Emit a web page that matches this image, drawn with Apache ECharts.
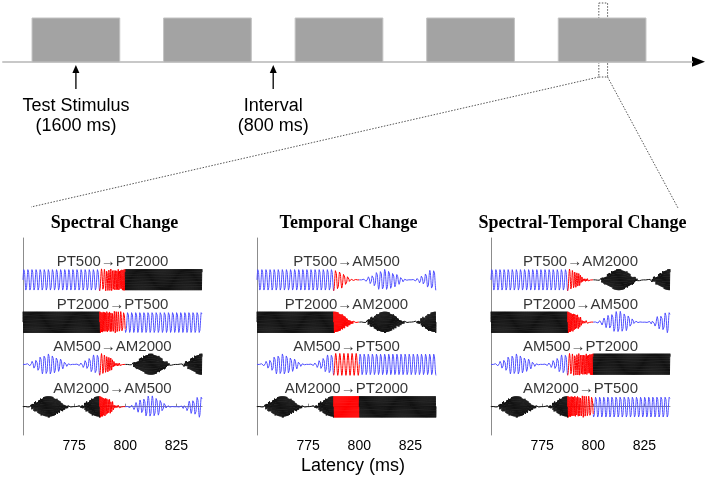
<!DOCTYPE html>
<html>
<head>
<meta charset="utf-8">
<script src="https://cdn.jsdelivr.net/npm/echarts@6.0.0/dist/echarts.min.js"></script>
<style>
  html, body { margin: 0; padding: 0; background: #fff; }
  #main { width: 709px; height: 478px; }
</style>
</head>
<body>
<div id="main"></div>
<script>
// stimulus timeline, ms
const stimulusOnsets = [0, 2400, 4800, 7200, 9600]
const stimulusDuration = 1600
const intervalDuration = 800
const timelineRange = [-530, 12040]
const zoomWindow = [10340, 10500]

// waveform panels
const panelTitles = ['Spectral Change', 'Temporal Change', 'Spectral-Temporal Change']
const panelRows = [
  ['PT500→PT2000', 'PT2000→PT500', 'AM500→AM2000', 'AM2000→AM500'],
  ['PT500→AM500', 'PT2000→AM2000', 'AM500→PT500', 'AM2000→PT2000'],
  ['PT500→AM2000', 'PT2000→AM500', 'AM500→PT2000', 'AM2000→PT500']
]
const rowLevels = [3, 2, 1, 0]
const latencyRange = [750, 837.5]
const latencyTicks = [775, 800, 825]
const transitionWindow = [787.5, 800]
const amRate = 40 // Hz
const sampleStep = 0.02 // ms

const carrierColors = { 500: '#5050ff', 2000: '#111111' }
const transitionColor = '#ff0000'
const axisGray = '#8c8c8c'
const SANS = '"Liberation Sans", Arial, sans-serif'
const SERIF = '"Liberation Serif", "Times New Roman", serif'

const panelLefts = [23, 257, 491]
const panelWidth = 179
const panelTop = 238
const panelHeight = 197

const chart = echarts.init(document.getElementById('main'), null, { renderer: 'canvas' })

function parseStim(s) {
  return { type: s.slice(0, 2), freq: +s.slice(2) }
}

function envelope(type, t) {
  if (type === 'PT') return 1
  const s = Math.sin(Math.PI * t * amRate / 1000)
  return s * s
}

// one row: old tone, red glide into the new tone, new tone
function buildRow(label, level) {
  const [a, b] = label.split('→').map(parseStim)
  const [t0, t1] = transitionWindow
  const T = t1 - t0
  const amp = 0.26
  const phase0 = 2 * Math.PI * a.freq * t0 / 1000
  const phase1 = phase0 + 2 * Math.PI * (a.freq * T + (b.freq - a.freq) * T / 2) / 1000
  const before = []
  const during = []
  const after = []
  const n = Math.round((latencyRange[1] - latencyRange[0]) / sampleStep)
  for (let i = 0; i <= n; i++) {
    const t = latencyRange[0] + i * sampleStep
    if (t <= t0) {
      const y = envelope(a.type, t) * Math.sin(2 * Math.PI * a.freq * t / 1000)
      before.push([t, level + amp * y])
    }
    if (t >= t0 && t <= t1) {
      const tau = t - t0
      const ph = phase0 + 2 * Math.PI * (a.freq * tau + (b.freq - a.freq) * tau * tau / (2 * T)) / 1000
      during.push([t, level + amp * envelope(b.type, t) * Math.sin(ph)])
    }
    if (t >= t1) {
      const ph = phase1 + 2 * Math.PI * b.freq * (t - t1) / 1000
      after.push([t, level + amp * envelope(b.type, t) * Math.sin(ph)])
    }
  }
  return [
    { data: before, color: carrierColors[a.freq] },
    { data: during, color: transitionColor },
    { data: after, color: carrierColors[b.freq] }
  ]
}

const grids = [{ left: 3, right: 17, top: 18, height: 44 }]
const xAxes = [{
  type: 'value', gridIndex: 0, min: timelineRange[0], max: timelineRange[1],
  axisLine: { show: true, lineStyle: { color: '#c8c8c8', width: 2 } },
  axisTick: { show: false }, axisLabel: { show: false }, splitLine: { show: false }
}]
const yAxes = [{ type: 'value', gridIndex: 0, min: 0, max: 1, show: false }]
const series = [{
  type: 'custom',
  xAxisIndex: 0,
  yAxisIndex: 0,
  silent: true,
  data: stimulusOnsets.map(s => [s, s + stimulusDuration]),
  renderItem: (params, api) => {
    const p0 = api.coord([api.value(0), 1])
    const p1 = api.coord([api.value(1), 0])
    return {
      type: 'rect',
      shape: { x: p0[0], y: p0[1], width: p1[0] - p0[0], height: p1[1] - p0[1] },
      style: { fill: '#a3a3a3', stroke: '#c2c2c2', lineWidth: 1 }
    }
  }
}]

panelTitles.forEach((title, p) => {
  const gi = p + 1
  grids.push({ left: panelLefts[p], top: panelTop, width: panelWidth, height: panelHeight })
  xAxes.push({
    type: 'value', gridIndex: gi, min: latencyRange[0], max: latencyRange[1],
    axisLine: { show: true, lineStyle: { color: axisGray, width: 1 } },
    axisTick: { show: true, inside: true, length: 3, customValues: latencyTicks, lineStyle: { color: axisGray } },
    axisLabel: { show: true, customValues: latencyTicks, color: '#000', fontSize: 14, fontFamily: SANS, margin: 4 },
    splitLine: { show: false }
  })
  yAxes.push({
    type: 'value', gridIndex: gi, min: -0.67, max: 3.99,
    axisLine: { show: true, lineStyle: { color: axisGray, width: 1 } },
    axisTick: { show: false }, axisLabel: { show: false }, splitLine: { show: false }
  })
  panelRows[p].forEach((label, r) => {
    buildRow(label, rowLevels[r]).forEach(seg => {
      series.push({
        type: 'line', xAxisIndex: gi, yAxisIndex: gi,
        data: seg.data, showSymbol: false, symbol: 'none', silent: true,
        lineStyle: { color: seg.color, width: 1 }, animation: false
      })
    })
  })
  series.push({
    type: 'scatter', xAxisIndex: gi, yAxisIndex: gi, symbolSize: 0, silent: true,
    data: panelRows[p].map((label, r) => ({
      name: label,
      value: [(latencyRange[0] + latencyRange[1]) / 2, rowLevels[r] + 0.42]
    })),
    label: { show: true, position: 'inside', formatter: '{b}', color: '#000', fontSize: 15, fontFamily: SANS }
  })
})

chart.setOption({
  animation: false,
  grid: grids,
  xAxis: xAxes,
  yAxis: yAxes,
  series: series
})

// annotations placed on the timeline scale
const px = t => chart.convertToPixel({ gridIndex: 0 }, [t, 0])[0]
const stimMid = stimulusOnsets[0] + stimulusDuration / 2
const gapMid = stimulusOnsets[1] + stimulusDuration + intervalDuration / 2
const graphic = [
  { type: 'polygon', shape: { points: [[692, 56.5], [705, 61.7], [692, 66.8]] }, style: { fill: '#000' } }
]

function upArrow(x) {
  graphic.push({ type: 'line', shape: { x1: x, y1: 89, x2: x, y2: 72 }, style: { stroke: '#222', lineWidth: 1.5 } })
  graphic.push({ type: 'polygon', shape: { points: [[x - 3.5, 73], [x, 65], [x + 3.5, 73]] }, style: { fill: '#000' } })
}
function label(text, x, y, font) {
  graphic.push({
    type: 'text', x: x, y: y,
    style: Object.assign({ text: text, fill: '#000', align: 'center', verticalAlign: 'middle' }, font)
  })
}

upArrow(px(stimMid))
upArrow(px(gapMid))
const annFont = { fontSize: 18, fontFamily: SANS }
label('Test Stimulus', px(stimMid), 106, annFont)
label('(' + stimulusDuration + ' ms)', px(stimMid), 126, annFont)
label('Interval', px(gapMid), 106, annFont)
label('(' + intervalDuration + ' ms)', px(gapMid), 126, annFont)

const z0 = px(zoomWindow[0])
const z1 = px(zoomWindow[1])
const dotted = { stroke: '#555', lineWidth: 1, lineDash: [1.5, 1.5], fill: null }
graphic.push({ type: 'rect', shape: { x: z0, y: 3, width: z1 - z0, height: 74 }, style: dotted })
graphic.push({ type: 'line', shape: { x1: z0, y1: 77, x2: 31, y2: 207 }, style: dotted })
graphic.push({ type: 'line', shape: { x1: z1, y1: 77, x2: 678, y2: 208 }, style: dotted })

panelTitles.forEach((title, p) => {
  label(title, panelLefts[p] + panelWidth / 2 + 2, 223, { fontSize: 18, fontWeight: 'bold', fontFamily: SERIF })
})
label('Latency (ms)', 353, 466, { fontSize: 18, fontFamily: SANS })

chart.setOption({ graphic: graphic })
</script>
</body>
</html>
